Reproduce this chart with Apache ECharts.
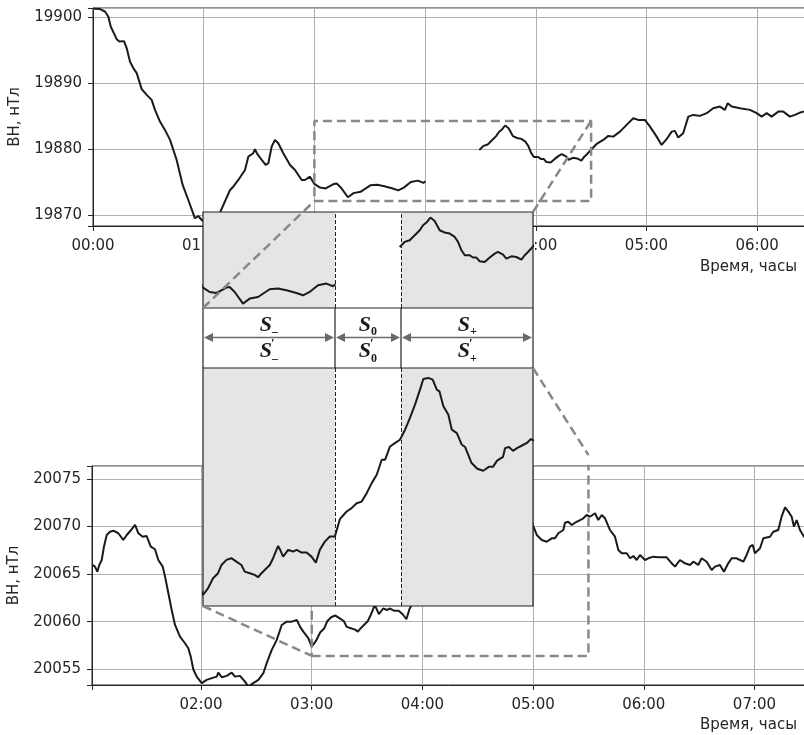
<!DOCTYPE html>
<html>
<head>
<meta charset="utf-8">
<script src="https://cdn.jsdelivr.net/npm/echarts@6/dist/echarts.min.js"></script>
<style>
  html, body { margin: 0; padding: 0; background: #fff; }
  #chart { width: 804px; height: 735px; }
</style>
</head>
<body>
<div id="chart"></div>
<script>
// верхняя станция, часы / нТл (null = пропуск данных)
const topTimes = [0.01, 0.063, 0.108, 0.138, 0.16, 0.214, 0.238, 0.28, 0.304, 0.334, 0.364, 0.395, 0.44, 0.485, 0.53, 0.56, 0.605, 0.65, 0.696, 0.756, 0.81, 0.861, 0.921, 0.951, 0.982, 1.03, 1.084, 1.147, 1.238, 1.267, 1.313, 1.373, 1.403, 1.448, 1.463, 1.484, 1.524, 1.56, 1.584, 1.614, 1.644, 1.674, 1.719, 1.78, 1.825, 1.885, 1.915, 1.96,
  2.0, 2.051, 2.102, 2.177, 2.202, 2.24, 2.303, 2.354, 2.417, 2.505, 2.568, 2.632, 2.708, 2.758, 2.808, 2.871, 2.935, 2.985, 3.003, 3.25,
  3.49, 3.528, 3.566, 3.604, 3.642, 3.667, 3.697, 3.723, 3.755, 3.793, 3.831, 3.869, 3.907, 3.932, 3.958, 3.983, 4.021, 4.045, 4.071, 4.096, 4.134, 4.172, 4.21, 4.235, 4.273, 4.298, 4.336, 4.374, 4.412, 4.437, 4.462, 4.497,
  4.55, 4.61, 4.655, 4.7, 4.761, 4.821, 4.881, 4.926, 4.986, 5.032, 5.092, 5.137, 5.182, 5.228, 5.257, 5.287, 5.332, 5.378, 5.423, 5.483, 5.544, 5.603, 5.664, 5.709, 5.734, 5.77, 5.845, 5.935, 5.996, 6.041, 6.086, 6.131, 6.191, 6.236, 6.296, 6.341, 6.387, 6.423, 6.5];
const topValues = [19901.3, 19901.23, 19900.87, 19900.11, 19898.59, 19896.67, 19896.31, 19896.37, 19895.31, 19893.27, 19892.27, 19891.51, 19889.08, 19888.21, 19887.45, 19885.93, 19884.15, 19882.89, 19881.37, 19878.33, 19874.53, 19872.25, 19869.47, 19869.82, 19869.21, 19868.76, 19869.06, 19870.32, 19873.77, 19874.27, 19875.29, 19876.81, 19878.83, 19879.35, 19879.96, 19879.24, 19878.33, 19877.57, 19877.83, 19880.35, 19881.37, 19880.87, 19879.35, 19877.57, 19876.81, 19875.29, 19875.29, 19875.79,
  19874.69, 19874.13, 19874.0, 19874.69, 19874.76, 19874.13, 19872.66, 19873.29, 19873.49, 19874.47, 19874.56, 19874.34, 19874.0, 19873.71, 19874.13, 19874.98, 19875.19, 19874.85, 19875.1, null,
  19879.83, 19880.47, 19880.68, 19881.31, 19881.95, 19882.58, 19883.0, 19883.56, 19883.13, 19881.95, 19881.66, 19881.53, 19881.1, 19880.47, 19879.41, 19878.78, 19878.78, 19878.49, 19878.49, 19878.02, 19877.93, 19878.49, 19878.99, 19879.2, 19878.87, 19878.36, 19878.65, 19878.56, 19878.23, 19878.78, 19879.2, 19879.83,
  19880.76, 19881.37, 19881.98, 19881.87, 19882.63, 19883.65, 19884.67, 19884.41, 19884.41, 19883.39, 19881.87, 19880.61, 19881.48, 19882.63, 19882.74, 19881.72, 19882.39, 19884.91, 19885.17, 19885.02, 19885.43, 19886.19, 19886.43, 19885.93, 19886.95, 19886.43, 19886.19, 19885.93, 19885.43, 19884.91, 19885.43, 19884.91, 19885.67, 19885.67, 19884.91, 19885.17, 19885.52, 19885.67, 19885.6];

// нижняя станция
const botTimes = [1.018, 1.042, 1.063, 1.081, 1.103, 1.123, 1.148, 1.178, 1.208, 1.253, 1.298, 1.329, 1.368, 1.404, 1.434, 1.473, 1.509, 1.546, 1.584, 1.614, 1.654, 1.675, 1.705, 1.735, 1.765, 1.81, 1.855, 1.885, 1.907, 1.93, 1.961,
  2.006, 2.051, 2.097, 2.142, 2.156, 2.187, 2.232, 2.277, 2.307, 2.352, 2.397, 2.427, 2.472, 2.518, 2.563, 2.593, 2.639, 2.684, 2.729, 2.774, 2.819, 2.865, 2.894, 2.924, 2.969,
  3.0, 3.038, 3.076, 3.114, 3.14, 3.178, 3.215, 3.253, 3.291, 3.316, 3.354, 3.392, 3.417, 3.443, 3.481, 3.506, 3.531, 3.569, 3.587, 3.607, 3.645, 3.683, 3.709, 3.747, 3.785, 3.822, 3.855, 3.885, 3.923, 3.961, 3.999,
  4.037, 4.088, 4.126, 4.164, 4.202, 4.24, 4.278, 4.316, 4.354, 4.379, 4.417, 4.454, 4.492, 4.531, 4.568, 4.606, 4.644, 4.669, 4.707, 4.74, 4.771, 4.791, 4.821, 4.859, 4.885, 4.923, 4.961, 4.986,
  5.033, 5.078, 5.123, 5.168, 5.198, 5.228, 5.273, 5.288, 5.318, 5.349, 5.379, 5.424, 5.454, 5.484, 5.514, 5.559, 5.589, 5.62, 5.65, 5.665, 5.695, 5.74, 5.77, 5.8, 5.846, 5.876, 5.906, 5.936, 5.966,
  6.011, 6.041, 6.086, 6.131, 6.207, 6.252, 6.282, 6.327, 6.372, 6.417, 6.447, 6.492, 6.523, 6.568, 6.613, 6.643, 6.688, 6.724, 6.763, 6.794, 6.839, 6.869, 6.899, 6.929, 6.959, 6.984,
  7.004, 7.05, 7.08, 7.14, 7.17, 7.215, 7.245, 7.276, 7.306, 7.336, 7.357, 7.381, 7.411, 7.447, 7.5];
const botValues = [20065.97, 20065.79, 20065.26, 20065.97, 20066.49, 20067.89, 20069.12, 20069.46, 20069.57, 20069.3, 20068.59, 20069.12, 20069.64, 20070.17, 20069.3, 20068.94, 20069.01, 20067.89, 20067.62, 20066.49, 20065.79, 20064.74, 20063.0, 20061.24, 20059.66, 20058.43, 20057.74, 20057.22, 20056.33, 20055.01, 20054.23,
  20053.54, 20053.89, 20054.07, 20054.23, 20054.65, 20054.17, 20054.31, 20054.65, 20054.23, 20054.31, 20053.71, 20053.18, 20053.54, 20053.89, 20054.59, 20055.64, 20057.04, 20058.09, 20059.66, 20060.01, 20060.01, 20060.19, 20059.49, 20058.96, 20058.27,
  20057.39, 20057.98, 20058.87, 20059.32, 20060.05, 20060.5, 20060.65, 20060.35, 20060.05, 20059.46, 20059.32, 20059.17, 20058.96, 20059.32, 20059.76, 20060.05, 20060.65, 20061.74, 20061.33, 20060.79, 20061.39, 20061.24, 20061.39, 20061.15, 20061.15, 20060.79, 20060.26, 20061.39, 20062.12, 20062.57, 20062.57,
  20064.11, 20064.79, 20065.09, 20065.53, 20065.67, 20066.42, 20067.31, 20068.05, 20069.38, 20069.38, 20070.56, 20070.86, 20071.16, 20072.05, 20073.09, 20074.27, 20075.6, 20076.55, 20076.64, 20076.49, 20075.6, 20075.45, 20074.12, 20073.38, 20072.05, 20071.75, 20070.71, 20070.51,
  20069.12, 20068.59, 20068.41, 20068.77, 20068.77, 20069.3, 20069.64, 20070.41, 20070.51, 20070.17, 20070.41, 20070.69, 20070.87, 20071.22, 20071.04, 20071.4, 20070.69, 20071.22, 20070.87, 20071.04, 20069.64, 20068.94, 20067.54, 20067.2, 20067.2, 20066.67, 20066.91, 20066.49, 20067.02,
  20066.49, 20066.67, 20066.84, 20066.77, 20066.77, 20066.14, 20065.79, 20066.49, 20066.14, 20065.97, 20066.31, 20065.97, 20066.67, 20066.31, 20065.44, 20065.79, 20065.97, 20065.26, 20066.14, 20066.67, 20066.67, 20066.49, 20066.31, 20067.02, 20067.89, 20068.07,
  20067.2, 20067.72, 20068.77, 20068.94, 20069.46, 20069.64, 20071.04, 20072.03, 20071.57, 20071.04, 20069.99, 20070.69, 20069.64, 20068.94, 20068.5];

// границы увеличенных фрагментов и интервалов S-, S0, S+
const topZoomX = [2, 4.5];
const topZoomY = [19872.1, 19884.26];
const botZoomX = [3, 5.5];
const botZoomY = [20056.41, 20077.52];
const topSplits = [2, 3, 3.5, 4.5];
const botSplits = [3, 4, 4.5, 5.5];
const intervalSubs = ['–', '0', '+'];

const yTitle = 'ВН, нТл';
const xTitle = 'Время, часы';

const chart = echarts.init(document.getElementById('chart'));

const ink = '#262626';
const axisFont = { fontFamily: 'DejaVu Sans', fontSize: 15, color: ink };
const zip = (xs, ys) => xs.map((x, i) => [x, ys[i]]);
const rect = (xr, yr) => [[xr[0], yr[0]], [xr[1], yr[0]], [xr[1], yr[1]], [xr[0], yr[1]], [xr[0], yr[0]]];
const isStep = (v, s) => Math.abs(v / s - Math.round(v / s)) < 1e-6;
const hourLabel = (v) => {
  if (!isStep(v, 1)) return '';
  const h = Math.round(v);
  return (h < 10 ? '0' : '') + h + ':00';
};

function mainX(grid, min, max) {
  return {
    gridIndex: grid, type: 'value', min: min, max: max, minInterval: 1, maxInterval: 1,
    axisLine: { lineStyle: { color: ink, width: 1 } },
    axisTick: { length: 5, lineStyle: { color: ink } },
    axisLabel: Object.assign({ margin: 13, formatter: hourLabel }, axisFont),
    splitLine: { show: true, lineStyle: { color: '#b0b0b0', width: 1 } }
  };
}
function mainY(grid, min, max, step) {
  return {
    gridIndex: grid, type: 'value', min: min, max: max, minInterval: step, maxInterval: step,
    name: yTitle, nameLocation: 'middle', nameGap: 70, nameTextStyle: axisFont,
    axisLine: { show: true, lineStyle: { color: ink, width: 1 } },
    axisTick: { show: true, length: 5, lineStyle: { color: ink } },
    axisLabel: Object.assign({ margin: 11, formatter: (v) => (isStep(v, step) ? String(Math.round(v)) : '') }, axisFont),
    splitLine: { show: true, lineStyle: { color: '#b0b0b0', width: 1 } }
  };
}
const hidden = (grid, r) => ({ gridIndex: grid, type: 'value', min: r[0], max: r[1], show: false });

const lineStyle = { color: '#1a1a1a', width: 2 };
const dash = { color: '#888888', width: 2.5, type: [9, 5] };

function insetSeries(idx, data, splits) {
  return {
    type: 'line', xAxisIndex: idx, yAxisIndex: idx, data: data, showSymbol: false, z: 12,
    lineStyle: lineStyle, silent: true,
    markArea: {
      z: 11, silent: true,
      itemStyle: { color: '#e4e5e7' },
      data: [[{ xAxis: splits[0] }, { xAxis: splits[1] }], [{ xAxis: splits[2] }, { xAxis: splits[3] }]]
    },
    markLine: {
      z: 13, silent: true, symbol: 'none', label: { show: false },
      lineStyle: { color: '#222', width: 1, type: [4, 2] },
      data: [{ xAxis: splits[1] }, { xAxis: splits[2] }]
    }
  };
}

const gridBase = { show: true, outerBoundsMode: 'none', containLabel: false };
const option = {
  animation: false,
  backgroundColor: '#fff',
  grid: [
    Object.assign({ left: 93, top: 8, width: 760, height: 218, borderColor: ink, borderWidth: 1 }, gridBase),
    Object.assign({ left: 92, top: 466, width: 760, height: 219, borderColor: ink, borderWidth: 1 }, gridBase),
    Object.assign({ left: 203, top: 212, width: 330, height: 96, backgroundColor: '#fff', borderWidth: 0, z: 10 }, gridBase),
    Object.assign({ left: 203, top: 368, width: 330, height: 238, backgroundColor: '#fff', borderWidth: 0, z: 10 }, gridBase)
  ],
  xAxis: [mainX(0, 0, 6.866), mainX(1, 1.015, 7.881), hidden(2, topZoomX), hidden(3, botZoomX)],
  yAxis: [mainY(0, 19868.3, 19901.4, 10), mainY(1, 20053.35, 20076.37, 5), hidden(2, topZoomY), hidden(3, botZoomY)],
  series: [
    { type: 'line', xAxisIndex: 0, yAxisIndex: 0, data: zip(topTimes, topValues), showSymbol: false, lineStyle: lineStyle, silent: true },
    { type: 'line', xAxisIndex: 1, yAxisIndex: 1, data: zip(botTimes, botValues), showSymbol: false, lineStyle: lineStyle, silent: true },
    { type: 'line', xAxisIndex: 0, yAxisIndex: 0, data: rect(topZoomX, topZoomY), showSymbol: false, lineStyle: dash, silent: true, z: 3 },
    { type: 'line', xAxisIndex: 1, yAxisIndex: 1, data: rect(botZoomX, botZoomY), showSymbol: false, lineStyle: dash, silent: true, z: 3 },
    insetSeries(2, zip(topTimes, topValues), topSplits),
    insetSeries(3, zip(botTimes, botValues), botSplits)
  ]
};
chart.setOption(option);

// рамки, соединительные линии и подписи интервалов
const px = (g, x, y) => chart.convertToPixel({ gridIndex: g }, [x, y]);
const els = [];
const connector = (a, b) => els.push({
  type: 'line', z: 30, silent: true,
  shape: { x1: a[0], y1: a[1], x2: b[0], y2: b[1] },
  style: { stroke: '#888888', lineWidth: 2.5, lineDash: [9, 5] }
});
const outline = (g, xr, yr) => {
  const p0 = px(g, xr[0], yr[1]);
  const p1 = px(g, xr[1], yr[0]);
  els.push({
    type: 'rect', z: 25, silent: true,
    shape: { x: p0[0], y: p0[1], width: p1[0] - p0[0], height: p1[1] - p0[1] },
    style: { fill: null, stroke: '#222', lineWidth: 1.2 }
  });
};
outline(2, topZoomX, topZoomY);
outline(3, botZoomX, botZoomY);

// полоса с обозначениями
const bandTop = px(2, topSplits[0], topZoomY[0])[1];
const bandBot = px(3, botSplits[0], botZoomY[1])[1];
const xs = topSplits.map((s) => px(2, s, topZoomY[0])[0]);
els.push({
  type: 'rect', z: 24, silent: true,
  shape: { x: xs[0], y: bandTop, width: xs[3] - xs[0], height: bandBot - bandTop },
  style: { fill: '#fff', stroke: null }
});
xs.forEach((x) => els.push({
  type: 'line', z: 26, silent: true,
  shape: { x1: x, y1: bandTop, x2: x, y2: bandBot },
  style: { stroke: '#222', lineWidth: 1.2 }
}));
const ay = bandTop + 29.5;
const arrowColor = '#6a6a6a';
const sFont = 'italic bold 22px "Liberation Serif"';
const subFont = 'bold 12px "Liberation Serif"';
for (let i = 0; i < 3; i++) {
  const a = xs[i] + 1, b = xs[i + 1] - 1;
  els.push({ type: 'line', z: 27, silent: true, shape: { x1: a + 4, y1: ay, x2: b - 4, y2: ay }, style: { stroke: arrowColor, lineWidth: 1.5 } });
  els.push({ type: 'polygon', z: 27, silent: true, shape: { points: [[a, ay], [a + 9, ay - 4.5], [a + 9, ay + 4.5]] }, style: { fill: arrowColor } });
  els.push({ type: 'polygon', z: 27, silent: true, shape: { points: [[b, ay], [b - 9, ay - 4.5], [b - 9, ay + 4.5]] }, style: { fill: arrowColor } });
  const cx = (xs[i] + xs[i + 1]) / 2 + 3;
  const sub = intervalSubs[i];
  const txt = (t, x, y, font, align) => els.push({
    type: 'text', z: 28, silent: true,
    style: { text: t, x: x, y: y, font: font, fill: '#1a1a1a', align: align, verticalAlign: 'middle' }
  });
  txt('S', cx, bandTop + 17, sFont, 'right');
  txt(sub, cx, bandTop + 24, subFont, 'left');
  txt('S', cx, bandTop + 43.5, sFont, 'right');
  txt('′', cx - 1, bandTop + 36, 'bold 13px "Liberation Serif"', 'left');
  txt(sub, cx, bandTop + 51, subFont, 'left');
}

connector(px(2, topZoomX[0], topZoomY[0]), px(0, topZoomX[0], topZoomY[0]));
connector(px(2, topZoomX[1], topZoomY[1]), px(0, topZoomX[1], topZoomY[1]));
connector(px(3, botZoomX[0], botZoomY[0]), px(1, botZoomX[0], botZoomY[0]));
connector(px(3, botZoomX[1], botZoomY[1]), px(1, botZoomX[1], botZoomY[1]));

const title = (y) => els.push({
  type: 'text', z: 30, silent: true,
  style: { text: xTitle, x: 797, y: y, fill: ink, font: '15px "DejaVu Sans"', align: 'right', verticalAlign: 'middle' }
});
title(267);
title(725);

chart.setOption({ graphic: { elements: els } });
</script>
</body>
</html>
